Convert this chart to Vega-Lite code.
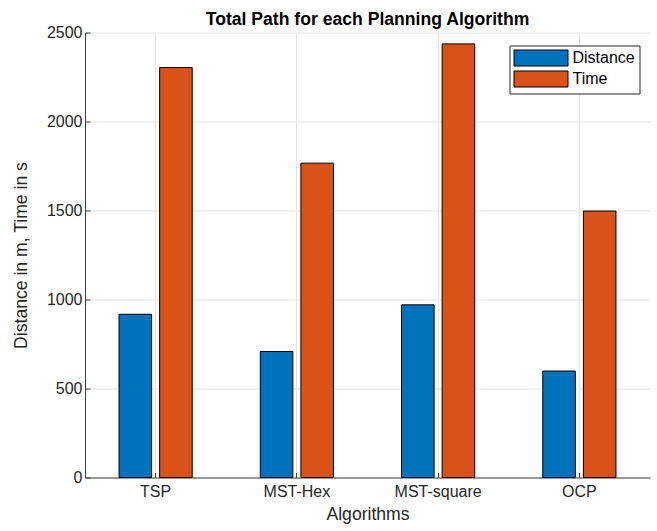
{
  "$schema": "https://vega.github.io/schema/vega-lite/v6.json",
  "width": 565,
  "height": 445,
  "autosize": {"type": "none"},
  "padding": {"left": 85, "top": 32.5, "right": 7, "bottom": 53.5},
  "background": "white",
  "config": {"font": "Liberation Sans", "view": {"stroke": null}},
  "title": {"text": "Total Path for each Planning Algorithm", "fontSize": 17.6, "fontWeight": "bold", "color": "#000000", "offset": -4, "anchor": "middle", "font": "Liberation Sans"},
  "data": {"values": [
    {"Algorithm": "TSP", "Metric": "Distance", "Value": 917},
    {"Algorithm": "TSP", "Metric": "Time", "Value": 2303},
    {"Algorithm": "MST-Hex", "Metric": "Distance", "Value": 708},
    {"Algorithm": "MST-Hex", "Metric": "Time", "Value": 1766},
    {"Algorithm": "MST-square", "Metric": "Distance", "Value": 970},
    {"Algorithm": "MST-square", "Metric": "Time", "Value": 2436},
    {"Algorithm": "OCP", "Metric": "Distance", "Value": 598},
    {"Algorithm": "OCP", "Metric": "Time", "Value": 1497}
  ]},
  "mark": {"type": "bar", "stroke": "#000000", "strokeWidth": 1},
  "encoding": {
    "x": {
      "field": "Algorithm", "type": "nominal",
      "sort": ["TSP", "MST-Hex", "MST-square", "OCP"],
      "scale": {"paddingInner": 0.482, "paddingOuter": 0.241},
      "axis": {
        "title": "Algorithms", "labelAngle": 0, "bandPosition": 0.5,
        "grid": true, "gridColor": "#e3e3e3", "gridWidth": 1,
        "domainColor": "#404040", "domainWidth": 1,
        "tickColor": "#404040", "tickSize": -5,
        "labelFontSize": 16, "labelColor": "#262626", "labelPadding": 11,
        "titleFontSize": 17.6, "titleFontWeight": "normal", "titleColor": "#262626", "titlePadding": 6
      }
    },
    "xOffset": {"field": "Metric", "type": "nominal", "scale": {"paddingInner": 0.198, "paddingOuter": 0}},
    "y": {
      "field": "Value", "type": "quantitative",
      "scale": {"domain": [0, 2500], "nice": false},
      "axis": {
        "title": "Distance in m, Time in s", "values": [0, 500, 1000, 1500, 2000, 2500], "format": "d",
        "grid": true, "gridColor": "#e3e3e3", "gridWidth": 1,
        "domainColor": "#404040", "domainWidth": 1,
        "tickColor": "#404040", "tickSize": -5,
        "labelFontSize": 16, "labelColor": "#262626", "labelPadding": 8,
        "titleFontSize": 17.6, "titleFontWeight": "normal", "titleColor": "#262626", "titlePadding": 16
      }
    },
    "color": {
      "field": "Metric", "type": "nominal",
      "scale": {"domain": ["Distance", "Time"], "range": ["#0072BD", "#D95319"]},
      "legend": {
        "orient": "none", "legendX": 424.5, "legendY": 13, "title": null,
        "symbolType": "M-1,-1H5.75V1H-1Z", "symbolSize": 256,
        "symbolStrokeColor": "#000000", "symbolStrokeWidth": 1, "symbolOpacity": 1,
        "labelFontSize": 16, "labelColor": "#000000", "labelOffset": 42,
        "strokeColor": "#262626", "fillColor": "white", "padding": 4,
        "rowPadding": 0, "cornerRadius": 0
      }
    }
  }
}
